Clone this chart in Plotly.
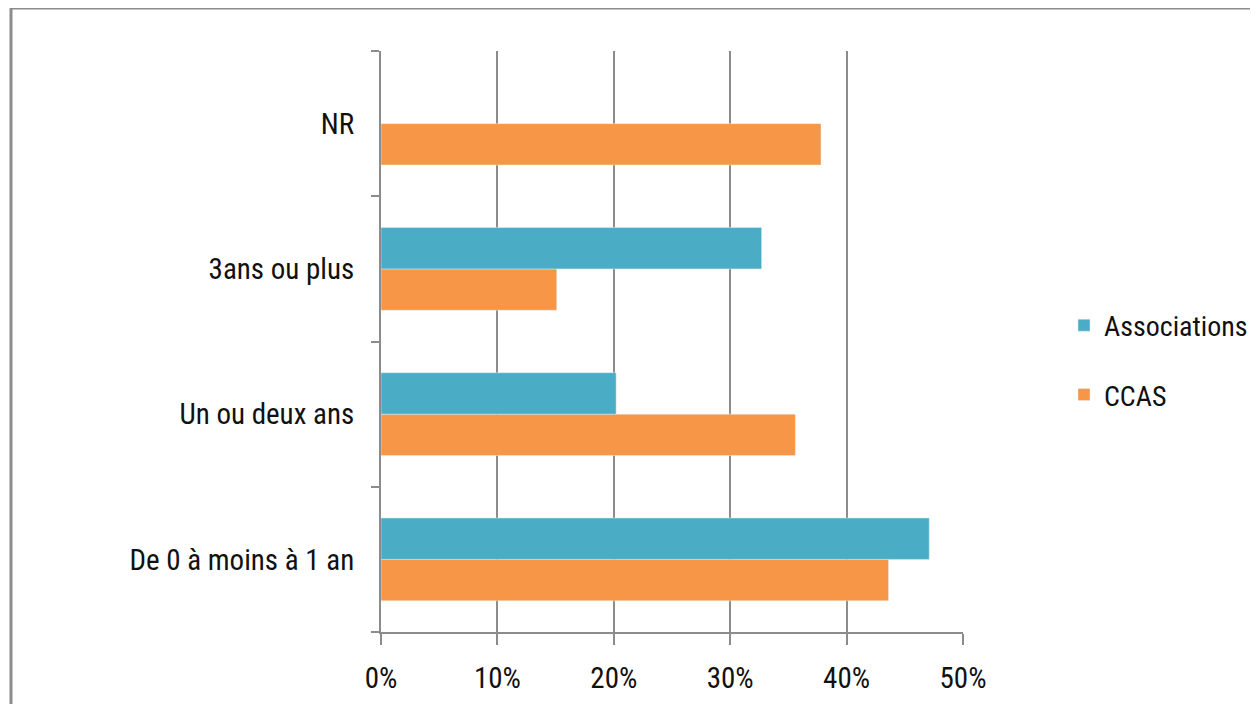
import plotly.graph_objects as go

categories = ["De 0 à moins à 1 an", "Un ou deux ans", "3ans ou plus", "NR"]
associations = [0.471, 0.202, 0.327, None]
ccas = [0.436, 0.356, 0.151, 0.378]
tick_vals = [0, 0.1, 0.2, 0.3, 0.4, 0.5]
tick_text = ["0%", "10%", "20%", "30%", "40%", "50%"]

FONT = "Liberation Sans Narrow, Roboto Condensed, Arial Narrow, sans-serif"
GREY = "#8c8c8c"

fig = go.Figure()
fig.add_trace(go.Bar(y=categories, x=ccas, orientation="h", name="CCAS",
                     marker=dict(color="#F79646"), legendrank=2, legendgroup="b"))
fig.add_trace(go.Bar(y=categories, x=associations, orientation="h", name="Associations",
                     marker=dict(color="#4BACC6"), legendrank=1, legendgroup="a"))

OFF = 8  # page body margin
W, H = 1258 - OFF, 704 - OFF
L, R, T, B = 381 - OFF, 963 - OFF, 51 - OFF, 632 - OFF
PW = W - L  # paper width in px (right margin 0)


def px(x):
    return (x - OFF - L) / PW


def py(y):
    return (B - (y - OFF)) / (B - T)


fig.update_layout(
    width=W, height=H,
    margin=dict(l=L, r=0, t=T, b=H - B, pad=0, autoexpand=False),
    paper_bgcolor="white", plot_bgcolor="white",
    barmode="group", bargap=0.43, bargroupgap=0,
    font=dict(family=FONT, size=29, color="#111111"),
    legend=dict(x=px(1064), y=py(360), xanchor="left", yanchor="middle",
                traceorder="grouped", tracegroupgap=30,
                font=dict(family=FONT, size=28), itemwidth=30,
                bgcolor="rgba(0,0,0,0)"),
    xaxis=dict(domain=[0, (R - L) / PW], range=[0, 0.5], tickvals=tick_vals, ticktext=tick_text,
               showgrid=True, gridcolor=GREY, gridwidth=2,
               showline=True, linecolor=GREY, linewidth=2,
               ticks="outside", ticklen=11, tickwidth=2, tickcolor=GREY,
               zeroline=False, fixedrange=True, ticklabelstandoff=8,
               automargin=False),
    yaxis=dict(categoryorder="array", categoryarray=categories,
               showline=True, linecolor=GREY, linewidth=2,
               ticks="outside", ticklen=8, tickwidth=2, tickcolor=GREY,
               tickson="boundaries", showgrid=False, zeroline=False,
               ticklabelstandoff=19, automargin=False),
    shapes=[dict(type="rect", xref="paper", yref="paper",
                 x0=px(11), x1=px(1400),
                 y0=py(800), y1=py(8),
                 line=dict(color=GREY, width=3), fillcolor="rgba(0,0,0,0)",
                 layer="below")],
)

fig.write_html("out.html")
